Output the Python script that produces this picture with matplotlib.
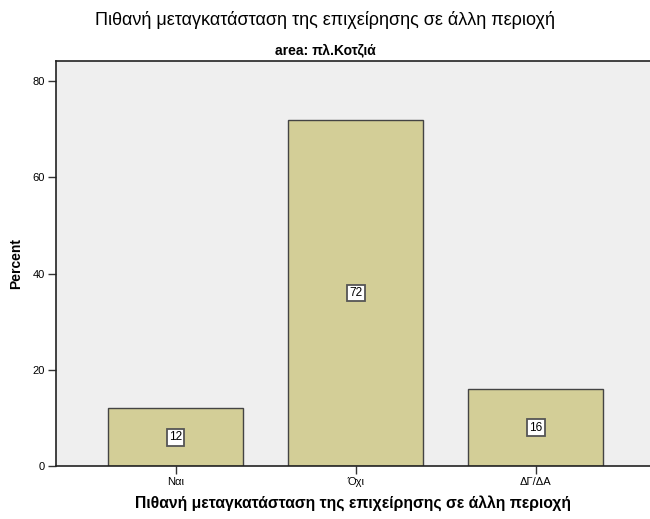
import matplotlib
matplotlib.use("Agg")
import matplotlib.pyplot as plt

# chart values
categories = ["Ναι", "Όχι", "ΔΓ/ΔΑ"]
percents = [12, 72, 16]
y_ticks = [0, 20, 40, 60, 80]

title = "Πιθανή μεταγκατάσταση της επιχείρησης σε άλλη περιοχή"
subtitle = "area: πλ.Κοτζιά"
x_label = "Πιθανή μεταγκατάσταση της επιχείρησης σε άλλη περιοχή"
y_label = "Percent"


def main():
    plt.rcParams['font.family'] = ['Liberation Sans', 'DejaVu Sans']

    fig = plt.figure(figsize=(6.5, 5.19), dpi=100)
    ax = fig.add_axes([0.0862, 0.1021, 0.914, 0.7803])
    ax.set_facecolor("#efefef")

    positions = list(range(len(categories)))
    ax.bar(positions, percents, width=0.75, color="#d3ce97",
           edgecolor="#444444", linewidth=1.0, zorder=2)

    # value boxes in the middle of each bar
    for pos, val in zip(positions, percents):
        ax.text(pos, val / 2, f"{val}", ha="center", va="center",
                fontsize=8.5, color="black", zorder=3,
                bbox=dict(boxstyle="square,pad=0.2", facecolor="white",
                          edgecolor="#555555", linewidth=1.3))

    ax.set_xlim(-0.664, 2.636)
    ax.set_ylim(0, 84.2)
    ax.set_xticks(positions)
    ax.set_xticklabels(categories, fontsize=8)
    ax.set_yticks(y_ticks)
    ax.set_yticklabels([str(t) for t in y_ticks], fontsize=8)
    ax.tick_params(axis="both", direction="out", length=6, width=1,
                   color="#333333", pad=2)

    for side in ["left", "top", "bottom"]:
        ax.spines[side].set_color("#222222")
        ax.spines[side].set_linewidth(1.2)
    ax.spines["right"].set_visible(False)

    ax.set_xlabel(x_label, fontsize=11.3, fontweight="bold", labelpad=6)
    ax.set_ylabel(y_label, fontsize=10, fontweight="bold", labelpad=7)

    # title and subtitle centred on the figure
    fig.text(0.5, 1 - 20 / 519, title, ha="center", va="center",
             fontsize=13)
    fig.text(0.5, 1 - 50 / 519, subtitle, ha="center", va="center",
             fontsize=10, fontweight="bold")

    fig.savefig("out.png", dpi=100)


if __name__ == "__main__":
    main()
